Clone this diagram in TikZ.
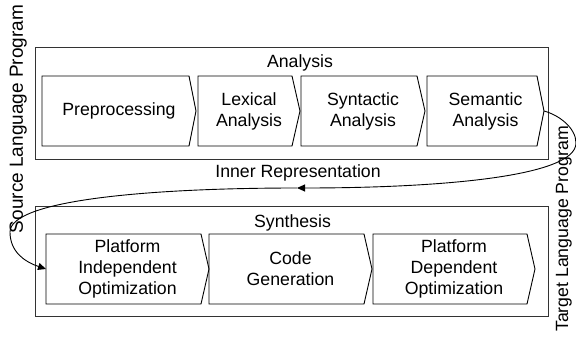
\documentclass[tikz,border=0pt]{standalone}
\usepackage{fontspec}
\setmainfont{Liberation Sans}
\usetikzlibrary{arrows.meta,calc}
\tikzset{
  chev/.style={draw=black, line width=0.9pt, line join=miter},
  outerbox/.style={draw=black!80, line width=0.9pt},
  steptext/.style={align=center, inner sep=0pt, font=\fontsize{17.7}{21}\selectfont},
  lbl/.style={inner sep=0pt, font=\fontsize{17.7}{21}\selectfont},
  conn/.style={draw=black, line width=0.9pt, -{Triangle[length=8pt,width=7pt]}}
}
\newcommand{\chevbox}[7]{%
  \pgfmathsetmacro{\ym}{(#5+#6)/2}%
  \pgfmathsetmacro{\xc}{(#2+#4)/2}%
  \draw[chev] (#2,#5) -- (#3,#5) -- (#4,\ym) -- (#3,#6) -- (#2,#6) -- cycle;%
  \coordinate (#1tip) at (#4,\ym);%
  \coordinate (#1west) at (#2,\ym);%
  \node[steptext] (#1) at (\xc,\ym) {#7};%
}
\begin{document}
\begin{tikzpicture}[x=1pt,y=-1pt]
\useasboundingbox (0,0) rectangle (576,345);
% outer boxes
\draw[outerbox] (35,47) rectangle (548,159);
\draw[outerbox] (35,206) rectangle (548,316);
\node[lbl] (analysislbl) at (300,62.5) {Analysis};
\node[lbl] (synthesislbl) at (292.5,223) {Synthesis};
% analysis steps
\chevbox{pre}{42}{189}{196}{76}{146}{Preprocessing}
\chevbox{lex}{198}{292}{300}{76}{146}{Lexical\\Analysis}
\chevbox{syn}{301}{417}{425}{76}{146}{Syntactic\\Analysis}
\chevbox{sem}{427}{537}{544}{76}{146}{Semantic\\Analysis}
% synthesis steps
\chevbox{pio}{46}{201}{209}{234}{304}{Platform\\Independent\\Optimization}
\chevbox{cg}{209}{364}{372}{234}{304}{Code\\Generation}
\chevbox{pdo}{373}{527}{535}{234}{304}{Platform\\Dependent\\Optimization}
% labels
\node[lbl] (innerrep) at (298,173) {Inner Representation};
\node[lbl, rotate=90, anchor=base, font=\fontsize{19}{22}\selectfont] (srclbl) at (23,119) {Source Language Program};
\node[lbl, rotate=90, anchor=base] (tgtlbl) at (568,229) {Target Language Program};
% connector
\coordinate (rmost) at (576,143);
\coordinate (mid) at (297,188);
\coordinate (lmost) at (10,232);
\draw[conn] (semtip) .. controls (559,115) and (576,128) .. (rmost)
  .. controls (576,178) and (430,188) .. (mid);
\draw[conn] (mid) .. controls (150,188) and (10,200) .. (lmost)
  .. controls (10,252) and (25,262) .. (piowest);
\end{tikzpicture}
\end{document}
